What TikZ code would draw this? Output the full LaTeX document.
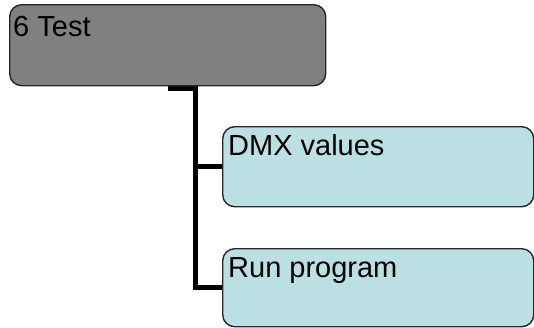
\documentclass[tikz,border=0pt]{standalone}
\usepackage{fontspec}
\setmainfont{Liberation Sans}
\usetikzlibrary{calc,backgrounds}
\definecolor{parentgray}{HTML}{808080}
\definecolor{childblue}{HTML}{BBE0E3}
\begin{document}
\begin{tikzpicture}[x=1pt,y=-1pt,
  box/.style={draw=black!85,line width=1.4pt,rounded corners=12pt,inner sep=0pt,anchor=north west},
  parentbox/.style={box,fill=parentgray,minimum width=316pt,minimum height=81pt},
  childbox/.style={box,fill=childblue,minimum width=311pt,minimum height=80pt},
  lbl/.style={anchor=base west,inner sep=0pt,font=\fontsize{29}{34}\selectfont},
  link/.style={draw=black,line width=5pt,line join=miter}]
  \useasboundingbox (0,0) rectangle (534,327);
  % boxes
  \node[parentbox] (top) at (9,4) {};
  \node[childbox] (c1) at (222,126) {};
  \node[childbox,minimum height=78pt] (c2) at (222,248) {};
  % labels
  \node[lbl] (t0) at ($(top.north west)+(4,32)$) {6 Test};
  \node[lbl] (t1) at ($(c1.north west)+(6,29)$) {DMX values};
  \node[lbl] (t2) at ($(c2.north west)+(6,29)$) {Run program};
  % tree connector, underneath the boxes
  \begin{scope}[on background layer]
    \coordinate (trunk) at ($(top.south)+(28,2)$);
    \path[link] ($(top.south)+(0,2)$) -- (trunk) |- (c2.west);
    \path[link] (trunk) |- (c1.west);
  \end{scope}
\end{tikzpicture}
\end{document}
